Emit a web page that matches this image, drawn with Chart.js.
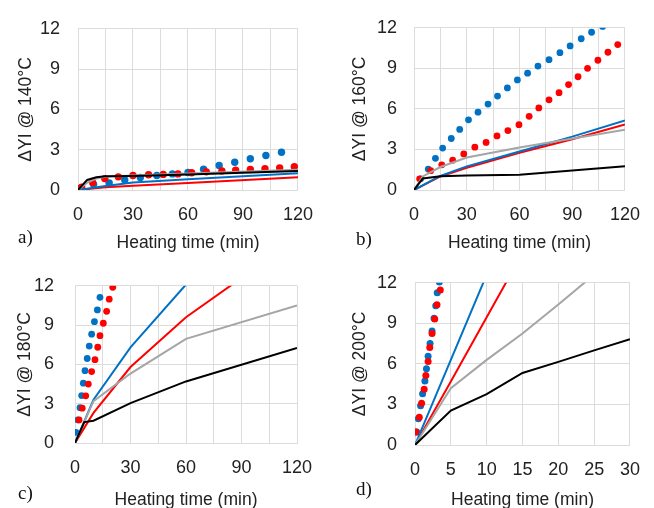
<!DOCTYPE html>
<html>
<head>
<meta charset="utf-8">
<script src="https://cdn.jsdelivr.net/npm/chart.js@4.4.1/dist/chart.umd.min.js"></script>
<style>
  body { margin: 0; background: #fff; }
  #wrap { position: relative; width: 654px; height: 508px; overflow: hidden; }
  canvas { position: absolute; }
  .tag { position: absolute; font-family: "Liberation Serif", "DejaVu Serif", serif; font-size: 19px; color: #111; }
</style>
</head>
<body>
<div id="wrap">
  <canvas id="pa" width="327" height="254" style="left:0;top:0"></canvas>
  <canvas id="pb" width="327" height="254" style="left:327px;top:0"></canvas>
  <canvas id="pc" width="327" height="257" style="left:0;top:254px"></canvas>
  <canvas id="pd" width="327" height="257" style="left:327px;top:254px"></canvas>
  <div class="tag" style="left:18px;top:226px">a)</div>
  <div class="tag" style="left:356px;top:228px">b)</div>
  <div class="tag" style="left:18px;top:482px">c)</div>
  <div class="tag" style="left:356px;top:478px">d)</div>
</div>
<script>
// [time (min), delta YI]
// a) 140°C
var a_black = [[0,0],[5,0.75],[10,0.95],[15,1.02],[30,1.05],[60,1.15],[120,1.42]];
var a_gray  = [[0,0],[5,0.55],[10,0.85],[15,0.98],[30,1.08],[60,1.22],[120,1.5]];
var a_blue  = [[0,0],[15,0.3],[30,0.55],[60,0.8],[120,1.25]];
var a_red   = [[0,0],[15,0.2],[30,0.32],[60,0.52],[120,0.95]];
var a_blueDots = [[1,0.1],[8.5,0.42],[17,0.52],[25.5,0.74],[34,0.93],[43,1.08],[51.5,1.2],[60,1.3],[68.5,1.55],[77,1.83],[85.5,2.07],[94,2.33],[102.5,2.57],[111,2.81]];
var a_redDots  = [[2,0.2],[8,0.55],[14.6,0.85],[22,0.98],[30,1.08],[38.5,1.13],[46.5,1.16],[54.5,1.2],[62,1.28],[70,1.35],[78.5,1.42],[86,1.48],[94,1.53],[102,1.58],[110,1.65],[118,1.74]];

// b) 160°C
var b_black = [[0,0],[5,0.85],[15,1.02],[30,1.08],[60,1.12],[120,1.75]];
var b_gray  = [[0,0],[5,1.0],[15,1.7],[30,2.4],[60,3.15],[120,4.45]];
var b_blue  = [[0,0],[15,1.05],[30,1.75],[60,2.85],[90,3.95],[120,5.15]];
var b_red   = [[0,0],[15,1.0],[30,1.65],[60,2.75],[90,3.75],[120,4.85]];
var b_blueDots = [[3.8,0.83],[8.1,1.55],[12.2,2.34],[16.3,3.1],[21.2,3.81],[26,4.48],[31,5.19],[36.4,5.76],[42.1,6.36],[47.5,6.95],[53.1,7.55],[58.8,8.14],[64.6,8.64],[70.5,9.17],[76.8,9.64],[83,10.16],[88.8,10.66],[95.1,11.19],[101,11.67],[107.3,12.1]];
var b_redDots  = [[3.2,0.83],[9.5,1.43],[15.8,1.86],[22,2.21],[28.3,2.67],[34.6,3.17],[41,3.52],[47.2,4.0],[53.4,4.4],[59.7,4.83],[65.5,5.45],[71,6.07],[76.8,6.67],[82.5,7.2],[87.9,7.8],[93.3,8.38],[98.7,9.0],[104.6,9.6],[110.3,10.19],[115.9,10.76]];

// c) 180°C
var c_black = [[0,0],[5,1.6],[10,1.7],[30,3.05],[60,4.7],[120,7.25]];
var c_gray  = [[0,0],[10,3.2],[30,5.3],[60,7.95],[120,10.5]];
var c_blue  = [[0,0],[10,3.3],[30,7.3],[60,12.1],[120,21.5]];
var c_red   = [[0,0],[10,2.3],[30,5.8],[60,9.6],[120,15.6]];
var c_blueDots = [[0.5,0.81],[1.5,1.76],[2.7,2.7],[3.6,3.62],[4.5,4.57],[5.4,5.52],[6.6,6.45],[7.7,7.4],[9.0,8.31],[10.5,9.26],[12.1,10.16],[13.5,11.12]];
var c_redDots  = [[2.2,1.76],[3.9,2.66],[5.8,3.6],[7.2,4.5],[9.0,5.45],[10.8,6.36],[12.3,7.31],[13.5,8.19],[15.3,9.14],[17.1,10.05],[18.5,10.98],[20.4,11.88]];

// d) 200°C
var d_black = [[0,0],[5,2.55],[10,3.76],[15,5.33],[20,6.15],[25,7.0],[30,7.83]];
var d_gray  = [[0,0],[5,4.2],[10,6.3],[15,8.25],[20,10.4],[25,12.6],[30,14.7]];
var d_blue  = [[0,0],[5,6.3],[10,12.6]];
var d_red   = [[0,0],[5,4.7],[10,9.45],[15,14.2]];
var d_blueDots = [[0.23,0.97],[0.46,1.94],[0.78,2.91],[1.06,3.8],[1.38,4.73],[1.6,5.65],[1.83,6.57],[2.1,7.51],[2.38,8.44],[2.66,9.38],[2.9,10.3],[3.1,11.27],[3.4,12.05]];
var d_redDots  = [[0.14,0.97],[0.6,2.06],[0.92,3.08],[1.28,4.12],[1.51,5.14],[1.83,6.18],[2.06,7.22],[2.38,8.24],[2.75,9.33],[3.07,10.38],[3.53,11.47]];

var yTicks = [0, 3, 6, 9, 12];

var BLUE = 'rgb(0,114,198)', RED = 'rgb(255,0,0)', GRAY = 'rgb(165,165,165)', BLACK = '#000';
var GRID = '#dcdcdc';

Chart.defaults.font.family = '"Liberation Sans", Arial, sans-serif';
Chart.defaults.color = '#222';

function line(d, c) {
  return { data: d, borderColor: c, backgroundColor: c, borderWidth: 2, pointRadius: 0, tension: 0 };
}
function dots(d, c, r) {
  return { data: d, showLine: false, borderColor: c, backgroundColor: c, pointRadius: r, borderWidth: 0 };
}

function panel(id, p) {
  new Chart(document.getElementById(id), {
    type: 'line',
    data: {
      datasets: [
        line(p.black, BLACK), line(p.gray, GRAY), line(p.blue, BLUE), line(p.red, RED),
        dots(p.redDots, RED, p.r), dots(p.blueDots, BLUE, p.r)
      ]
    },
    options: {
      responsive: false,
      animation: false,
      layout: { padding: { left: 0, top: p.top, right: p.right, bottom: 0 } },
      plugins: { legend: { display: false }, tooltip: { enabled: false } },
      scales: {
        x: {
          type: 'linear', min: 0, max: p.xMax,
          afterFit: function (s) { s.height = p.xh; },
          grid: { color: GRID, drawTicks: false },
          border: { color: GRID },
          ticks: {
            stepSize: p.step, autoSkip: false, maxRotation: 0, padding: 14,
            font: { size: 18 },
            callback: function (v) { return v % p.labelEvery === 0 ? v : ''; }
          },
          title: { display: true, text: 'Heating time (min)', font: { size: 17.5 }, padding: { top: 0, bottom: 0 } }
        },
        y: {
          min: 0, max: 12,
          afterFit: function (s) { s.width = p.yw; },
          afterBuildTicks: function (s) { s.ticks = yTicks.map(function (v) { return { value: v }; }); },
          grid: { color: GRID, drawTicks: false },
          border: { color: GRID },
          ticks: { padding: p.tp, font: { size: 18 } },
          title: { display: true, text: p.ytitle, font: { size: 17.5 }, padding: { top: p.tt, bottom: 0 } }
        }
      }
    }
  });
}

panel('pa', { black: a_black, gray: a_gray, blue: a_blue, red: a_red, blueDots: a_blueDots, redDots: a_redDots,
  r: 3.7, xMax: 120, step: 15, labelEvery: 30, ytitle: 'ΔYI @ 140°C',
  top: 22, right: 27, xh: 64, yw: 78, tp: 18, tt: 15.5 });
panel('pb', { black: b_black, gray: b_gray, blue: b_blue, red: b_red, blueDots: b_blueDots, redDots: b_redDots,
  r: 3.4, xMax: 120, step: 15, labelEvery: 30, ytitle: 'ΔYI @ 160°C',
  top: 22, right: 17, xh: 64, yw: 87, tp: 17, tt: 22.5 });
panel('pc', { black: c_black, gray: c_gray, blue: c_blue, red: c_red, blueDots: c_blueDots, redDots: c_redDots,
  r: 3.4, xMax: 120, step: 15, labelEvery: 30, ytitle: 'ΔYI @ 180°C',
  top: 21, right: 30, xh: 68, yw: 75, tp: 21, tt: 14.5 });
panel('pd', { black: d_black, gray: d_gray, blue: d_blue, red: d_red, blueDots: d_blueDots, redDots: d_redDots,
  r: 3.5, xMax: 30, step: 5, labelEvery: 5, ytitle: 'ΔYI @ 200°C',
  top: 26, right: 21, xh: 66, yw: 88, tp: 18, tt: 22.5 });
</script>
</body>
</html>
